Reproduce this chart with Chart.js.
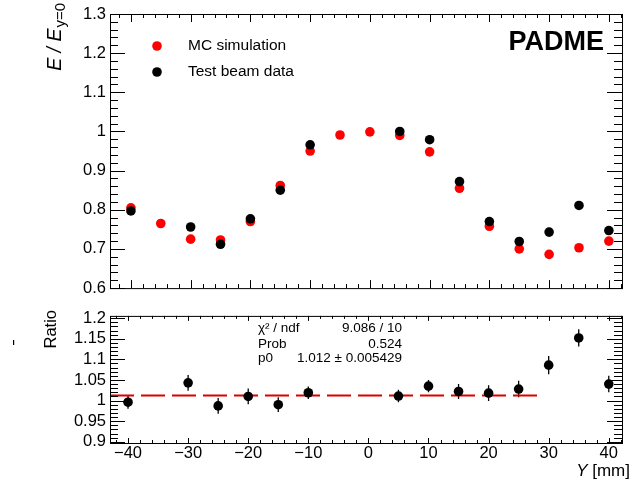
<!DOCTYPE html>
<html>
<head>
<meta charset="utf-8">
<script src="https://cdn.jsdelivr.net/npm/chart.js@4.4.1/dist/chart.umd.min.js"></script>
<style>
  body { margin: 0; background: #fff; }
  #wrap { position: relative; width: 632px; height: 482px; }
  canvas { position: absolute; left: 0; }
  #top { top: 0; }
  #bottom { top: 302px; }
</style>
</head>
<body>
<div id="wrap">
  <canvas id="top" width="632" height="302"></canvas>
  <canvas id="bottom" width="632" height="180"></canvas>
</div>
<script>
// values
var mcPos = [-40, -35, -30, -25, -20, -15, -10, -5, 0, 5, 10, 15, 20, 25, 30, 35, 40];
var mcVal = [0.805, 0.765, 0.725, 0.723, 0.770, 0.862, 0.950, 0.991, 0.999, 0.990, 0.948, 0.855, 0.758, 0.700, 0.686, 0.703, 0.720];

var dataPos = [-40, -30, -25, -20, -15, -10, 5, 10, 15, 20, 25, 30, 35, 40];
var dataVal = [0.797, 0.756, 0.712, 0.777, 0.850, 0.966, 1.000, 0.979, 0.872, 0.770, 0.719, 0.743, 0.811, 0.747];

var ratioVal = [0.996, 1.043, 0.987, 1.010, 0.990, 1.019, 1.011, 1.035, 1.022, 1.018, 1.028, 1.086, 1.152, 1.040];
var ratioErr = [0.016, 0.019, 0.019, 0.019, 0.018, 0.015, 0.015, 0.015, 0.018, 0.019, 0.020, 0.022, 0.021, 0.020];

var fitP0 = 1.012;
var fitRange = [-43, 28.3];

var xTicks = [-40, -30, -20, -10, 0, 10, 20, 30, 40];
var topYTicks = [0.6, 0.7, 0.8, 0.9, 1.0, 1.1, 1.2, 1.3];
var ratioYTicks = [0.9, 0.95, 1.0, 1.05, 1.1, 1.15, 1.2];

var FONT = '"Liberation Sans", Arial, Helvetica, sans-serif';

function fmt(v) {
  var s = String(Math.round(v * 1000) / 1000);
  return v < 0 ? '\u2212' + s.slice(1) : s;
}

// ROOT style frame with inner ticks on all four sides
function rootFrame(opt) {
  return {
    id: 'rootFrame',
    beforeDatasetsDraw: function (chart) {
      if (opt.errors) opt.errors(chart);
    },
    afterDraw: function (chart) {
      var ctx = chart.ctx, a = chart.chartArea;
      var xs = chart.scales.x, ys = chart.scales.y;
      ctx.save();
      ctx.strokeStyle = '#000';
      ctx.lineWidth = 1;
      ctx.strokeRect(a.left + 0.5, a.top + 0.5, a.right - a.left, a.bottom - a.top);
      ctx.beginPath();
      var v, px, len, k, r;
      var k0 = Math.ceil(xs.min / opt.xMinor - 1e-6), k1 = Math.floor(xs.max / opt.xMinor + 1e-6);
      for (k = k0; k <= k1; k++) {
        v = k * opt.xMinor;
        px = Math.round(xs.getPixelForValue(v)) + 0.5;
        r = v / opt.xMajor;
        len = Math.abs(r - Math.round(r)) < 1e-6 ? opt.xMajLen : opt.xMinLen;
        ctx.moveTo(px, a.bottom); ctx.lineTo(px, a.bottom - len);
        ctx.moveTo(px, a.top); ctx.lineTo(px, a.top + len);
      }
      k0 = Math.ceil(ys.min / opt.yMinor - 1e-6); k1 = Math.floor(ys.max / opt.yMinor + 1e-6);
      for (k = k0; k <= k1; k++) {
        v = k * opt.yMinor;
        px = Math.round(ys.getPixelForValue(v)) + 0.5;
        r = v / opt.yMajor;
        len = Math.abs(r - Math.round(r)) < 1e-6 ? opt.yMajLen : opt.yMinLen;
        ctx.moveTo(a.left, px); ctx.lineTo(a.left + len, px);
        ctx.moveTo(a.right, px); ctx.lineTo(a.right - len, px);
      }
      ctx.stroke();
      ctx.restore();
      if (opt.texts) opt.texts(chart);
    }
  };
}

function tickFont() { return { family: FONT, size: 16.5 }; }

// top panel: energy ratio vs position
new Chart(document.getElementById('top'), {
  type: 'scatter',
  data: {
    datasets: [
      {
        label: 'Test beam data',
        data: dataPos.map(function (x, i) { return { x: x, y: dataVal[i] }; }),
        backgroundColor: '#000', borderColor: '#000', borderWidth: 0,
        pointRadius: 4.8, order: 0
      },
      {
        label: 'MC simulation',
        data: mcPos.map(function (x, i) { return { x: x, y: mcVal[i] }; }),
        backgroundColor: '#ff0000', borderColor: '#ff0000', borderWidth: 0,
        pointRadius: 4.8, order: 1
      }
    ]
  },
  options: {
    responsive: false,
    animation: false,
    layout: { padding: { top: 14, right: 10, left: 0, bottom: 0 } },
    plugins: { legend: { display: false }, tooltip: { enabled: false } },
    scales: {
      x: {
        type: 'linear', min: -43.5, max: 42.2,
        ticks: { display: false },
        grid: { display: false, drawTicks: false },
        border: { display: false },
        afterFit: function (s) { s.height = 8; }
      },
      y: {
        min: 0.6, max: 1.3,
        afterBuildTicks: function (s) { s.ticks = topYTicks.map(function (v) { return { value: v }; }); },
        ticks: { font: tickFont(), color: '#000', padding: 4, autoSkip: false, callback: fmt },
        grid: { display: false, drawTicks: false },
        border: { display: false },
        afterFit: function (s) { s.width = 110; }
      }
    }
  },
  plugins: [rootFrame({
    xMinor: 2, xMajor: 10, xMajLen: 8, xMinLen: 4,
    yMinor: 0.02, yMajor: 0.1, yMajLen: 15, yMinLen: 8,
    texts: function (chart) {
      var ctx = chart.ctx;
      ctx.save();
      // legend
      ctx.fillStyle = '#ff0000';
      ctx.beginPath(); ctx.arc(157, 46, 4.8, 0, Math.PI * 2); ctx.fill();
      ctx.fillStyle = '#000';
      ctx.beginPath(); ctx.arc(157, 72, 4.8, 0, Math.PI * 2); ctx.fill();
      ctx.font = '15.5px ' + FONT;
      ctx.textBaseline = 'middle';
      ctx.textAlign = 'left';
      ctx.fillText('MC simulation', 188, 46);
      ctx.fillText('Test beam data', 188, 72);
      // experiment label
      ctx.font = 'bold 27px ' + FONT;
      ctx.textAlign = 'right';
      ctx.fillText('PADME', 604, 43);
      // y title, rotated, aligned to top of axis
      ctx.translate(61, 0);
      ctx.rotate(-Math.PI / 2);
      ctx.textBaseline = 'alphabetic';
      ctx.textAlign = 'left';
      var main = 'E / E', sub = 'y=0';
      ctx.font = 'italic 19.5px ' + FONT;
      var w1 = ctx.measureText(main).width + 1;
      ctx.font = '15px ' + FONT;
      var w2 = ctx.measureText(sub).width;
      var start = -(3 + w1 + w2);
      ctx.font = 'italic 19.5px ' + FONT;
      ctx.fillText(main, start, 0);
      ctx.font = '15px ' + FONT;
      ctx.fillText(sub, start + w1, 4);
      ctx.restore();
    }
  })]
});

// bottom panel: data / MC ratio with constant fit
new Chart(document.getElementById('bottom'), {
  type: 'scatter',
  data: {
    datasets: [
      {
        label: 'Ratio',
        data: dataPos.map(function (x, i) { return { x: x, y: ratioVal[i] }; }),
        backgroundColor: '#000', borderColor: '#000', borderWidth: 0,
        pointRadius: 4.8, order: 0
      },
      {
        label: 'pol0',
        data: [{ x: fitRange[0], y: fitP0 }, { x: fitRange[1], y: fitP0 }],
        showLine: true, pointRadius: 0,
        borderColor: '#dd0000', borderWidth: 2, borderDash: [24, 7],
        order: 1
      }
    ]
  },
  options: {
    responsive: false,
    animation: false,
    layout: { padding: { top: 9, right: 10, left: 0, bottom: 0 } },
    plugins: { legend: { display: false }, tooltip: { enabled: false } },
    scales: {
      x: {
        type: 'linear', min: -43.0, max: 42.2,
        afterBuildTicks: function (s) { s.ticks = xTicks.map(function (v) { return { value: v }; }); },
        ticks: { font: tickFont(), color: '#000', padding: 1, maxRotation: 0, autoSkip: false, callback: fmt },
        grid: { display: false, drawTicks: false },
        border: { display: false },
        afterFit: function (s) { s.height = 39; }
      },
      y: {
        min: 0.897, max: 1.2055,
        afterBuildTicks: function (s) { s.ticks = ratioYTicks.map(function (v) { return { value: v }; }); },
        ticks: { font: tickFont(), color: '#000', padding: 4, autoSkip: false, callback: fmt },
        grid: { display: false, drawTicks: false },
        border: { display: false },
        afterFit: function (s) { s.width = 110; }
      }
    }
  },
  plugins: [rootFrame({
    xMinor: 2, xMajor: 10, xMajLen: 5, xMinLen: 3,
    yMinor: 0.01, yMajor: 0.05, yMajLen: 15, yMinLen: 8,
    errors: function (chart) {
      var ctx = chart.ctx, xs = chart.scales.x, ys = chart.scales.y;
      ctx.save();
      ctx.strokeStyle = '#000';
      ctx.lineWidth = 1.3;
      ctx.beginPath();
      dataPos.forEach(function (x, i) {
        var px = xs.getPixelForValue(x);
        ctx.moveTo(px, ys.getPixelForValue(ratioVal[i] - ratioErr[i]));
        ctx.lineTo(px, ys.getPixelForValue(ratioVal[i] + ratioErr[i]));
      });
      ctx.stroke();
      ctx.restore();
    },
    texts: function (chart) {
      var ctx = chart.ctx;
      ctx.save();
      ctx.fillStyle = '#000';
      // fit statistics
      ctx.font = '13.5px ' + FONT;
      ctx.textBaseline = 'middle';
      ctx.textAlign = 'left';
      ctx.fillText('\u03c7\u00b2 / ndf', 258, 26);
      ctx.fillText('Prob', 258, 42);
      ctx.fillText('p0', 258, 56);
      ctx.textAlign = 'right';
      ctx.fillText('9.086 / 10', 402, 26);
      ctx.fillText('0.524', 402, 42);
      ctx.fillText('1.012 \u00b1 0.005429', 402, 56);
      // x title
      ctx.font = 'italic 17px ' + FONT;
      var wy = ctx.measureText('Y').width;
      ctx.font = '17px ' + FONT;
      var wm = ctx.measureText(' [mm]').width;
      ctx.textAlign = 'left';
      ctx.font = 'italic 17px ' + FONT;
      ctx.fillText('Y', 630 - wm - wy, 169);
      ctx.font = '17px ' + FONT;
      ctx.fillText(' [mm]', 630 - wm, 169);
      // stray tick from the upper pad title
      ctx.fillRect(13, 38, 1.2, 5);
      // y title
      ctx.translate(56, 8);
      ctx.rotate(-Math.PI / 2);
      ctx.textAlign = 'right';
      ctx.textBaseline = 'alphabetic';
      ctx.font = '16.5px ' + FONT;
      ctx.fillText('Ratio', 0, 0);
      ctx.restore();
    }
  })]
});
</script>
</body>
</html>
